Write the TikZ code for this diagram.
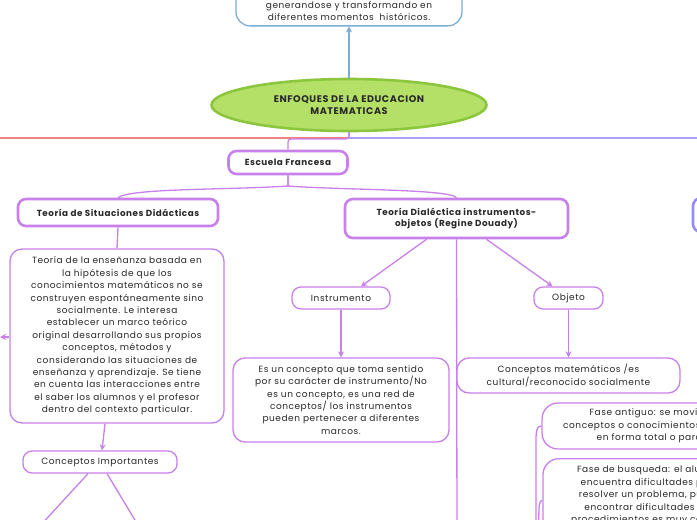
\documentclass[tikz,border=0pt]{standalone}
\usepackage{fontspec}
\setmainfont[LetterSpace=6]{Poppins}
\usetikzlibrary{shapes.geometric,arrows.meta}
\definecolor{pur}{RGB}{200,128,234}
\definecolor{bluebd}{RGB}{125,172,215}
\definecolor{greenfill}{RGB}{180,224,104}
\definecolor{greenbd}{RGB}{140,198,62}
\definecolor{redln}{RGB}{242,130,130}
\definecolor{lavln}{RGB}{170,160,250}
\definecolor{lavbd}{RGB}{150,140,248}
\definecolor{txt}{RGB}{40,40,40}
\tikzset{
  thickbox/.style={draw=pur, line width=2.6pt, rounded corners=8pt, fill=white, align=center, inner sep=0pt, text=txt, font=\fontsize{8.8}{11.2}\selectfont\bfseries},
  thinbox/.style={draw=pur, line width=1.3pt, rounded corners=12pt, fill=white, align=center, inner sep=0pt, text=txt, font=\fontsize{9}{12.4}\selectfont},
  smallbox/.style={draw=pur, line width=1.3pt, rounded corners=9pt, fill=white, align=center, inner sep=0pt, text=txt, font=\fontsize{9}{12.4}\selectfont},
  conn/.style={draw=pur, line width=1.3pt},
  arr/.style={draw=pur, line width=1.3pt, -{Stealth[length=6pt,width=6pt]}},
}
\begin{document}
\begin{tikzpicture}[x=1pt,y=-1pt]
\clip (0,0) rectangle (697,520);
\fill[white] (0,0) rectangle (697,520);

% top blue box (cut off)
\node[draw=bluebd, line width=1.3pt, rounded corners=14pt, fill=white, minimum width=226pt, anchor=south, align=center, text=txt, font=\fontsize{9}{12.4}\selectfont, inner xsep=0pt, inner ysep=5pt] (top) at (349,26.5) {\phantom{x}\\\phantom{x}\\generandose y transformando en\\diferentes momentos\ \ históricos.};

% root ellipse
\node[ellipse, draw=greenbd, line width=2.6pt, fill=greenfill, minimum width=275pt, minimum height=52pt, inner sep=0pt, align=center, text=txt, font=\fontsize{9.6}{11.5}\selectfont\bfseries] (root) at (349,105) {ENFOQUES DE LA EDUCACION\\MATEMATICAS};

\draw[draw=bluebd, line width=1.3pt, -{Stealth[length=6pt,width=6pt]}] (root) -- (top);

% off-screen targets
\coordinate (offL) at (-30,138);
\coordinate (offR) at (760,138);
\node[draw=lavbd, line width=2.6pt, rounded corners=8pt, minimum width=80pt, minimum height=34pt] (rnode) at (733,215) {};

\draw[draw=redln, line width=1.3pt] (root.south) -- (349,138) -- (offL);
\draw[draw=lavln, line width=1.3pt] (root.south) -- (349,138) -- (offR);

% Escuela Francesa
\node[thickbox, minimum width=119pt, minimum height=23pt] (esc) at (288,162.5) {Escuela Francesa};
\draw[conn, rounded corners=3pt] (root.south) -- (349,139) -- (288,139) -- (esc.north);

% level 2
\node[thickbox, minimum width=200pt, minimum height=27pt] (tsd) at (118,212.5) {Teoría de Situaciones Didácticas};
\node[thickbox, minimum width=223pt, minimum height=39pt] (td) at (456.5,218.5) {Teoría Dialéctica instrumentos-\\objetos (Regine Douady)};

\draw[conn] (esc.south) -- (288,186) .. controls (230,190) and (130,188) .. (tsd.north);
\draw[conn] (esc.south) -- (288,186) .. controls (340,190) and (450,189) .. (td.north);

% left branch
\node[thinbox, minimum width=214pt, minimum height=174pt] (d1) at (117,336) {Teoría de la enseñanza basada en\\la hipótesis de que los\\conocimientos matemáticos no se\\construyen espontáneamente sino\\socialmente. Le interesa\\establecer un marco teórico\\original desarrollando sus propios\\conceptos, métodos y\\considerando las situaciones de\\enseñanza y aprendizaje. Se tiene\\en cuenta las interacciones entre\\el saber los alumnos y el profesor\\dentro del contexto particular.};
\draw[conn] (tsd.south) -- (d1.north);
\coordinate (offD1) at (0,337);
\draw[arr] (d1.west |- offD1) -- (offD1);

\node[smallbox, minimum width=154pt, minimum height=22pt] (ci) at (100,462) {Conceptos Importantes};
\draw[arr] ([xshift=-12pt]d1.south) -- ([xshift=2pt]ci.north);
\coordinate (ciA) at (27,540);
\coordinate (ciB) at (147,540);
\draw[conn] ([xshift=-12pt]ci.south) -- (ciA);
\draw[conn] ([xshift=7pt]ci.south) -- (ciB);

% Dialectica branch
\node[smallbox, minimum width=98pt, minimum height=22pt] (ins) at (341,298) {Instrumento};
\node[smallbox, minimum width=69pt, minimum height=22pt] (obj) at (568.5,298) {Objeto};
\draw[arr] ([xshift=-30pt]td.south) -- ([xshift=20pt]ins.north);
\draw[arr] ([xshift=30pt]td.south) -- ([xshift=-16pt]obj.north);
\coordinate (tdDown) at (457,540);
\draw[conn] (td.south) -- (tdDown);

\node[thinbox, minimum width=216pt, minimum height=84pt] (d2) at (341,400) {Es un concepto que toma sentido\\por su carácter de instrumento/No\\es un concepto, es una red de\\conceptos/ los instrumentos\\pueden pertenecer a diferentes\\marcos.};
\draw[arr] (ins.south) -- (d2.north);

\node[thinbox, minimum width=223pt, minimum height=35pt] (d3) at (568.5,375.5) {Conceptos matemáticos /es\\cultural/reconocido socialmente};
\draw[arr] (obj.south) -- (d3.north);

% Fases (cut off at right)
\node[thinbox, rounded corners=16pt, minimum width=226pt, minimum height=46pt] (fa) at (655,426) {Fase antiguo: se movilizan\\conceptos o conocimientos antiguos\\en forma total o parcial};
\node[thinbox, rounded corners=16pt, minimum width=214pt, minimum height=84pt, anchor=north] (fb) at (650,458) {Fase de busqueda: el alumno\\encuentra dificultades para\\resolver un problema, puede\\encontrar dificultades con\\procedimientos es muy costoso\\\phantom{x}};
\coordinate (fsrc) at (536,600);
\draw[conn] (fsrc) -- (536,440) .. controls (536,428) and (538,426) .. (fa.west);
\draw[conn] (fsrc) -- (539,510) .. controls (539,502) and (541,500) .. (fb.west);
\end{tikzpicture}
\end{document}
